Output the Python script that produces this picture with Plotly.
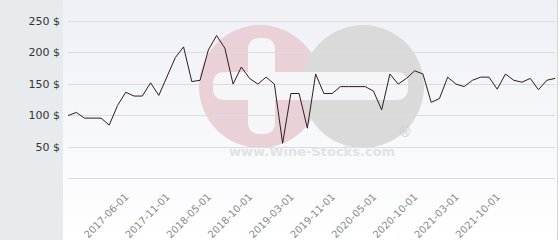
import plotly.graph_objects as go

dates = [
    "2016-11-01", "2016-12-01", "2017-01-01", "2017-02-01", "2017-03-01", "2017-04-01", "2017-05-01",
    "2017-06-01", "2017-07-01", "2017-08-01", "2017-09-01", "2017-10-01", "2017-11-01", "2017-12-01",
    "2018-01-01", "2018-02-01", "2018-04-01", "2018-05-01", "2018-06-01", "2018-07-01", "2018-08-01",
    "2018-09-01", "2018-10-01", "2018-11-01", "2018-12-01", "2019-01-01", "2019-02-01", "2019-03-01",
    "2019-04-01", "2019-06-01", "2019-08-01", "2019-10-01", "2019-11-01", "2019-12-01", "2020-01-01",
    "2020-02-01", "2020-04-01", "2020-05-01", "2020-06-01", "2020-07-01", "2020-08-01", "2020-09-01",
    "2020-10-01", "2020-11-01", "2020-12-01", "2021-01-01", "2021-02-01", "2021-03-01", "2021-04-01",
    "2021-05-01", "2021-07-01", "2021-09-01", "2021-10-01", "2021-11-01", "2021-12-01", "2022-01-01",
    "2022-02-01", "2022-03-01", "2022-04-01", "2022-05-01",
]
prices = [
    100, 105, 96, 96, 96, 85, 116, 137, 131, 131,
    152, 132, 162, 192, 209, 154, 156, 204, 227, 207,
    150, 177, 159, 150, 161, 150, 56, 135, 135, 80,
    166, 135, 135, 146, 146, 146, 146, 139, 109, 166,
    150, 159, 171, 166, 121, 127, 161, 150, 146, 156,
    161, 161, 142, 166, 156, 153, 159, 141, 156, 159,
]
x_tick_labels = ["2017-06-01", "2017-11-01", "2018-05-01", "2018-10-01", "2019-03-01",
                 "2019-11-01", "2020-05-01", "2020-10-01", "2021-03-01", "2021-10-01"]
y_tick_values = [50, 100, 150, 200, 250]
y_tick_labels = ["50 $", "100 $", "150 $", "200 $", "250 $"]

W, H = 560, 240
ML, MR, MT, MB = 68, 5, 0, 60
PW = W - ML - MR
PH = H - MT - MB


def px_x(p):  # pixel x -> paper x
    return (p - ML) / PW


def px_y(p):  # pixel y (from top) -> paper y
    return (H - MB - p) / PH


def rounded_rect(x0, y0, x1, y1, r):
    pts = []
    def P(x, y):
        return "%.5f,%.5f" % (px_x(x), px_y(y))
    path = "M " + P(x0 + r, y0)
    path += " L " + P(x1 - r, y0)
    path += " Q " + P(x1, y0) + " " + P(x1, y0 + r)
    path += " L " + P(x1, y1 - r)
    path += " Q " + P(x1, y1) + " " + P(x1 - r, y1)
    path += " L " + P(x0 + r, y1)
    path += " Q " + P(x0, y1) + " " + P(x0, y1 - r)
    path += " L " + P(x0, y0 + r)
    path += " Q " + P(x0, y0) + " " + P(x0 + r, y0) + " Z"
    return path


shapes = []
nb = 30
top_c = (238, 240, 246)
bot_c = (255, 255, 255)
for i in range(nb):
    y0p = i * H / nb
    y1p = (i + 1) * H / nb
    t = (i + 0.5) / nb
    c = tuple(int(round(top_c[k] + (bot_c[k] - top_c[k]) * t)) for k in range(3))
    shapes.append(dict(type="rect", xref="paper", yref="paper",
                       x0=px_x(63), x1=px_x(557), y0=px_y(y1p), y1=px_y(y0p),
                       fillcolor="rgb(%d,%d,%d)" % c, line=dict(width=0), layer="below"))
shapes.append(dict(type="rect", xref="paper", yref="paper", x0=px_x(0), x1=px_x(63),
                   y0=px_y(H), y1=px_y(0), fillcolor="#e7ebee", line=dict(width=0), layer="below"))
shapes.append(dict(type="line", xref="paper", yref="paper", x0=px_x(557.5), x1=px_x(557.5),
                   y0=px_y(H), y1=px_y(0), line=dict(color="#d4d6da", width=1), layer="below"))
# watermark
shapes.append(dict(type="circle", xref="paper", yref="paper",
                   x0=px_x(199), x1=px_x(321), y0=px_y(148), y1=px_y(25),
                   fillcolor="#ead0d7", line=dict(width=0), layer="below"))
shapes.append(dict(type="circle", xref="paper", yref="paper",
                   x0=px_x(302), x1=px_x(424), y0=px_y(148), y1=px_y(25),
                   fillcolor="#dadada", line=dict(width=0), layer="below"))
shapes.append(dict(type="path", xref="paper", yref="paper",
                   path=rounded_rect(213, 72, 408, 100, 12),
                   fillcolor="#f6f6f9", line=dict(width=0), layer="below"))
shapes.append(dict(type="path", xref="paper", yref="paper",
                   path=rounded_rect(248, 38, 275, 134, 12),
                   fillcolor="#f6f6f9", line=dict(width=0), layer="below"))

fig = go.Figure()
fig.add_trace(go.Scatter(x=dates, y=prices, mode="lines",
                         line=dict(color="#2e1b24", width=1), hoverinfo="x+y"))

fig.update_layout(
    width=W, height=H,
    margin=dict(l=ML, r=MR, t=MT, b=MB, pad=0),
    paper_bgcolor="white", plot_bgcolor="rgba(0,0,0,0)",
    showlegend=False,
    shapes=shapes,
    font=dict(family="DejaVu Sans"),
    annotations=[
        dict(text="<b>www.Wine-Stocks.com</b>", xref="paper", yref="paper",
             x=px_x(312), y=px_y(161), showarrow=False,
             font=dict(size=13, color="#e2e2e2", family="DejaVu Sans")),
        dict(text="®", xref="paper", yref="paper", x=px_x(414), y=px_y(142), showarrow=False,
             font=dict(size=14, color="#cfcfcf", family="DejaVu Sans")),
    ],
)
fig.update_xaxes(type="category", range=[0, len(dates) - 1],
                 tickmode="array", tickvals=x_tick_labels, ticktext=x_tick_labels,
                 tickangle=-45, showgrid=False, zeroline=False, showline=False,
                 ticklabelstandoff=8,
                 tickfont=dict(size=10, color="#8a8a8a", family="DejaVu Sans"))
fig.update_yaxes(range=[-2.2, 283.4], tickmode="array", tickvals=y_tick_values, ticktext=y_tick_labels,
                 showgrid=True, gridcolor="#dcdcdc", gridwidth=1,
                 zeroline=True, zerolinecolor="#dcdcdc", zerolinewidth=1,
                 showline=False, ticklabelstandoff=7,
                 tickfont=dict(size=11, color="#333333", family="DejaVu Sans"))

fig.write_html("out.html")
